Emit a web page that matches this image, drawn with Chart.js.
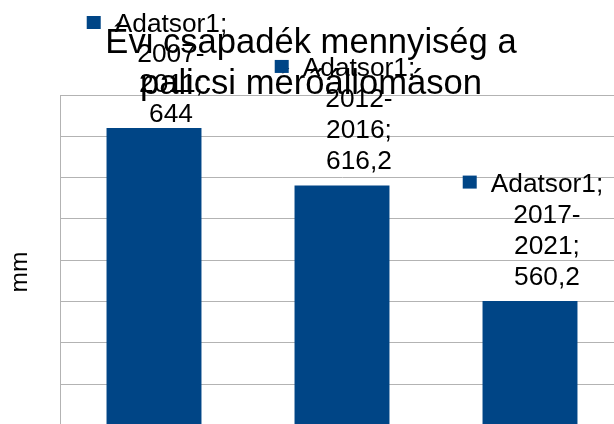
<!DOCTYPE html>
<html>
<head>
<meta charset="utf-8">
<script src="https://cdn.jsdelivr.net/npm/chart.js@4/dist/chart.umd.min.js"></script>
<style>
  html, body { margin: 0; padding: 0; overflow: hidden; background: #fff; }
  #wrap { width: 624px; height: 432px; }
</style>
</head>
<body>
<div id="wrap"><canvas id="csapadek"></canvas></div>
<script>
var categories = ["2007-2011", "2012-2016", "2017-2021"];
var seriesName = "Adatsor1";
var precipitation = [644, 616.2, 560.2];
var yMin = 500, yMax = 660, yStep = 20;
var titleLines = ["Évi csapadék mennyiség a", "palicsi mérőállomáson"];
var yTitle = "mm";

var barBlue = '#004586';
var gridGray = '#b3b3b3';
var fontFam = '"Liberation Sans", Arial, sans-serif';

// title, axis title and LibreOffice-style labels (legend key + series; category; value)
var labelPlugin = {
  id: 'labels',
  afterDatasetsDraw: function(chart) {
    var ctx = chart.ctx;
    ctx.save();
    ctx.fillStyle = '#000';
    ctx.textBaseline = 'alphabetic';

    ctx.font = '34.6px ' + fontFam;
    ctx.textAlign = 'center';
    for (var t = 0; t < titleLines.length; t++) {
      ctx.fillText(titleLines[t], chart.width / 2 - 1, 53 + t * 41);
    }

    ctx.save();
    ctx.font = '24.5px ' + fontFam;
    ctx.translate(27, 272);
    ctx.rotate(-Math.PI / 2);
    ctx.fillText(yTitle, 0, 0);
    ctx.restore();

    ctx.font = '26.3px ' + fontFam;
    var lineH = 31;
    var meta = chart.getDatasetMeta(0);
    meta.data.forEach(function(bar, i) {
      var parts = categories[i].split('-');
      var lines = [
        seriesName + ';',
        parts[0] + '-',
        parts[1] + ';',
        String(precipitation[i]).replace('.', ',')
      ];
      var firstBase = bar.y - 16.5 - (lines.length - 1) * lineH;
      var step = lineH;
      if (firstBase < 32) {
        // keep the label inside the page, squeeze a little like the original
        firstBase = 32;
        step = 30;
      }
      var cx = bar.x + 17;
      var w0 = ctx.measureText(lines[0]).width;
      ctx.fillStyle = barBlue;
      ctx.fillRect(cx - w0 / 2 - 28, firstBase - 16, 14, 13);
      ctx.fillStyle = '#000';
      ctx.textAlign = 'center';
      for (var k = 0; k < lines.length; k++) {
        ctx.fillText(lines[k], cx, firstBase + k * step);
      }
    });
    ctx.restore();
  }
};

var chart = new Chart(document.getElementById('csapadek'), {
  type: 'bar',
  data: {
    labels: categories,
    datasets: [{
      label: seriesName,
      data: precipitation,
      backgroundColor: barBlue,
      borderWidth: 0,
      barPercentage: 0.505,
      categoryPercentage: 1
    }]
  },
  options: {
    responsive: true,
    maintainAspectRatio: false,
    animation: false,
    layout: { padding: { top: 95, left: 60, right: 0, bottom: 6.6 } },
    plugins: {
      legend: { display: false },
      title: { display: false },
      tooltip: { enabled: false }
    },
    scales: {
      x: {
        display: false,
        grid: { display: false }
      },
      y: {
        min: yMin,
        max: yMax,
        ticks: { display: false, stepSize: yStep },
        grid: { color: gridGray, lineWidth: 1, drawTicks: false },
        border: { display: true, color: gridGray, width: 1 }
      }
    }
  },
  plugins: [labelPlugin]
});
</script>
</body>
</html>
